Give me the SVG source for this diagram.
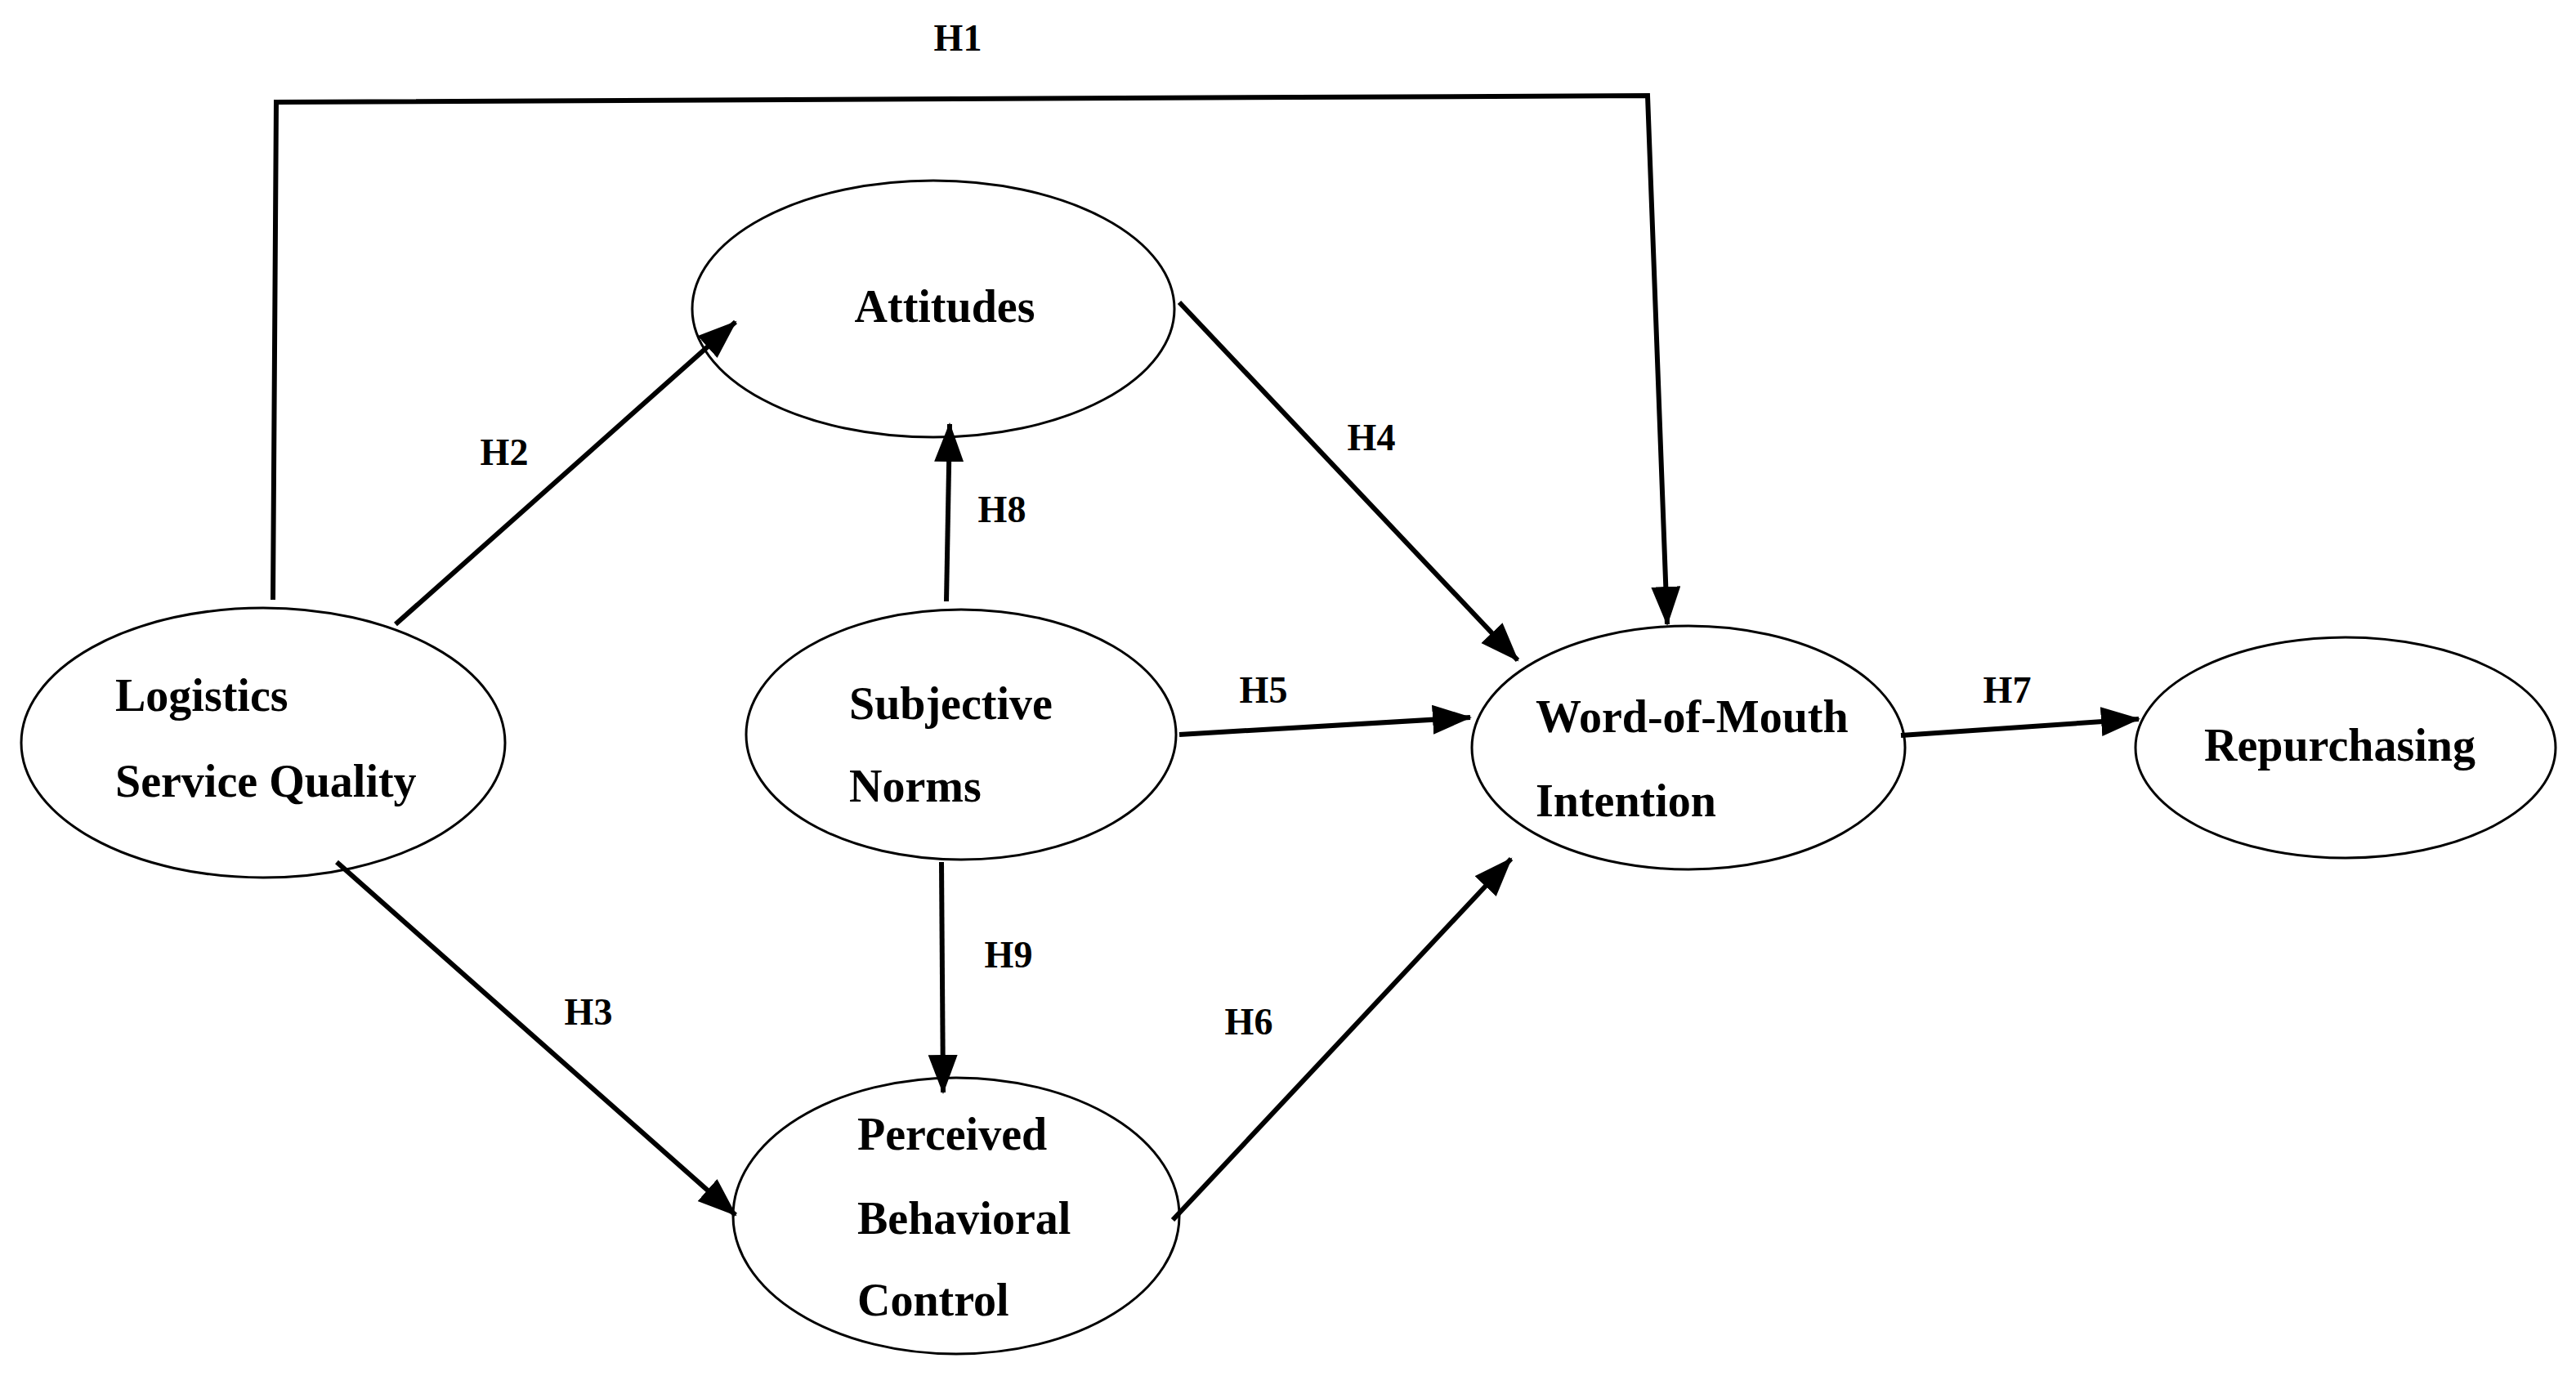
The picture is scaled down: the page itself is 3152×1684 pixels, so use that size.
<svg xmlns="http://www.w3.org/2000/svg" width="3152" height="1684" viewBox="0 0 3152 1684">
<style>
.n{fill:#fff;stroke:#000;stroke-width:3}
.t{font-family:"Liberation Serif",serif;font-weight:bold;font-size:56px;fill:#000}
.h{font-family:"Liberation Serif",serif;font-weight:bold;font-size:46px;fill:#000;text-anchor:middle}
.c{fill:none;stroke:#000;stroke-width:6}
</style>
<defs><marker id="a" markerUnits="userSpaceOnUse" markerWidth="50" markerHeight="40" refX="46" refY="18" orient="auto"><path d="M0,0 L48,18 L0,36 Z" fill="#000"/></marker></defs>
<rect width="3152" height="1684" fill="#fff"/>
<g id="attitudes"><ellipse class="n" cx="1142" cy="378" rx="295" ry="157"/><text class="t" x="1156" y="394" text-anchor="middle">Attitudes</text></g>
<g id="lsq"><ellipse class="n" cx="322" cy="909" rx="296" ry="165"/><text class="t" x="141" y="870">Logistics</text><text class="t" x="141" y="975">Service Quality</text></g>
<g id="sn"><ellipse class="n" cx="1176" cy="899" rx="263" ry="153"/><text class="t" x="1039" y="880">Subjective</text><text class="t" x="1039" y="981">Norms</text></g>
<g id="pbc"><ellipse class="n" cx="1170" cy="1488" rx="273" ry="169"/><text class="t" x="1049" y="1407">Perceived</text><text class="t" x="1049" y="1510">Behavioral</text><text class="t" x="1049" y="1610">Control</text></g>
<g id="wom"><ellipse class="n" cx="2066" cy="915" rx="265" ry="149"/><text class="t" x="1879" y="896">Word-of-Mouth</text><text class="t" x="1879" y="999">Intention</text></g>
<g id="rep"><ellipse class="n" cx="2870" cy="915" rx="257" ry="135"/><text class="t" x="2697" y="931">Repurchasing</text></g>
<g id="connectors">
<polyline class="c" points="334,734 338,125 2016,117 2040,764" marker-end="url(#a)"/>
<line class="c" x1="484" y1="764" x2="900" y2="394" marker-end="url(#a)"/>
<line class="c" x1="1158" y1="736" x2="1162" y2="519" marker-end="url(#a)"/>
<line class="c" x1="1443" y1="370" x2="1857" y2="808" marker-end="url(#a)"/>
<line class="c" x1="1443" y1="899" x2="1799" y2="878" marker-end="url(#a)"/>
<line class="c" x1="2326" y1="900" x2="2617" y2="880" marker-end="url(#a)"/>
<line class="c" x1="412" y1="1055" x2="900" y2="1487" marker-end="url(#a)"/>
<line class="c" x1="1152" y1="1055" x2="1154" y2="1337" marker-end="url(#a)"/>
<line class="c" x1="1435" y1="1493" x2="1849" y2="1051" marker-end="url(#a)"/>
<text class="h" x="1172" y="62">H1</text>
<text class="h" x="617" y="569">H2</text>
<text class="h" x="1226" y="639">H8</text>
<text class="h" x="1678" y="551">H4</text>
<text class="h" x="1546" y="860">H5</text>
<text class="h" x="2456" y="860">H7</text>
<text class="h" x="720" y="1254">H3</text>
<text class="h" x="1234" y="1184">H9</text>
<text class="h" x="1528" y="1266">H6</text>
</g>
</svg>
